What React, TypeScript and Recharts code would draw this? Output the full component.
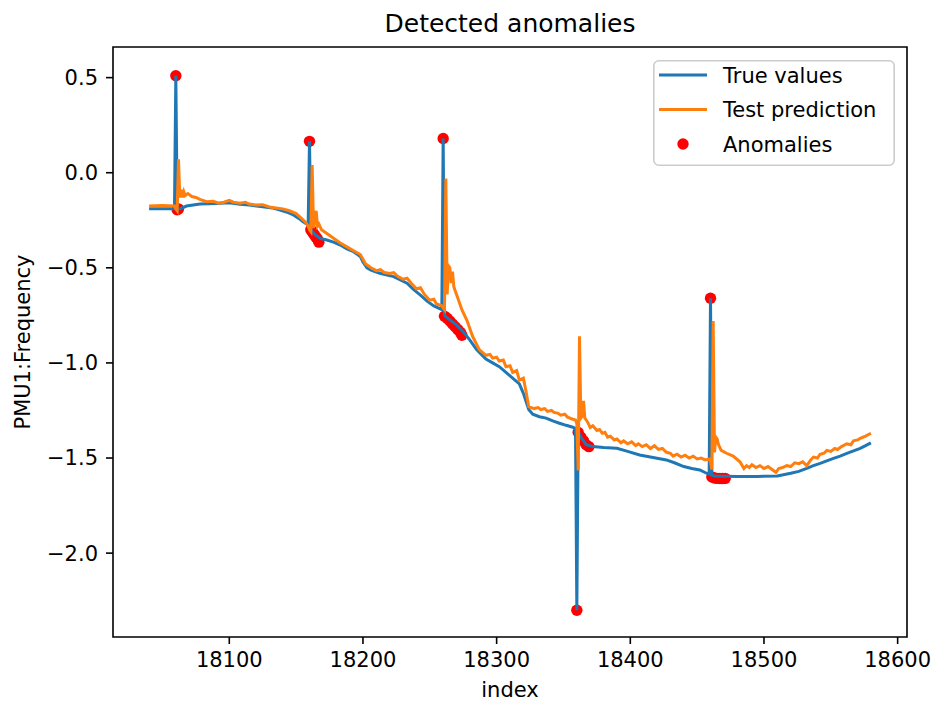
import React from "react";
import {
  ComposedChart,
  Line,
  Scatter,
  XAxis,
  YAxis,
  ReferenceArea,
  Legend,
} from "recharts";

// index / value pairs
const trueIndex = [
  18040, 18059, 18060, 18061, 18063, 18068, 18078, 18090, 18100, 18108, 18115, 18125, 18132, 18138, 18144, 18148,
  18152, 18155, 18159, 18160, 18161, 18164, 18168, 18173, 18178, 18183, 18188, 18193, 18198, 18200, 18203, 18206,
  18212, 18218, 18223, 18228, 18233, 18238, 18243, 18248, 18253, 18257, 18259, 18260, 18261, 18265, 18270, 18275,
  18280, 18285, 18292, 18297, 18302, 18307, 18312, 18317, 18320, 18324, 18327, 18332, 18337, 18342, 18347, 18352,
  18357, 18359, 18360, 18361, 18363, 18367, 18372, 18380, 18390, 18398, 18407, 18415, 18427, 18433, 18440, 18446,
  18452, 18457, 18459, 18460, 18461, 18463, 18480, 18495, 18510, 18520, 18526, 18532, 18537, 18542, 18547, 18552,
  18557, 18562, 18567, 18572, 18576, 18580,
];
const trueValues = [
  -0.19, -0.19, 0.51, -0.195, -0.19, -0.175, -0.164, -0.162, -0.158, -0.166, -0.17, -0.179, -0.185, -0.196, -0.21, -0.222,
  -0.24, -0.257, -0.275, 0.165, -0.3, -0.325, -0.345, -0.354, -0.365, -0.38, -0.4, -0.415, -0.44, -0.47, -0.5, -0.512,
  -0.527, -0.538, -0.546, -0.564, -0.581, -0.615, -0.643, -0.675, -0.7, -0.713, -0.72, 0.18, -0.75, -0.774, -0.8, -0.836,
  -0.88, -0.93, -0.98, -1.0, -1.02, -1.05, -1.08, -1.11, -1.16, -1.245, -1.27, -1.283, -1.29, -1.305, -1.317, -1.328,
  -1.338, -1.345, -2.3, -1.36, -1.39, -1.43, -1.44, -1.445, -1.449, -1.465, -1.484, -1.495, -1.51, -1.525, -1.545, -1.555,
  -1.563, -1.58, -1.585, -0.66, -1.59, -1.594, -1.597, -1.597, -1.594, -1.58, -1.57, -1.554, -1.54, -1.528, -1.515, -1.502,
  -1.49, -1.476, -1.462, -1.449, -1.435, -1.42,
];

const predIndex = [
  18040, 18050, 18059, 18060, 18061, 18062, 18063, 18064, 18065, 18066, 18067, 18069, 18072, 18075, 18078, 18083,
  18088, 18092, 18096, 18100, 18103, 18108, 18112, 18115, 18120, 18125, 18130, 18135, 18140, 18145, 18150, 18154,
  18157, 18159, 18160, 18161, 18162, 18163, 18164, 18165, 18166, 18167, 18169, 18173, 18178, 18183, 18188, 18193,
  18198, 18200, 18202, 18206, 18210, 18213, 18216, 18220, 18223, 18226, 18230, 18233, 18236, 18240, 18243, 18246,
  18250, 18253, 18255, 18259, 18260, 18261, 18262, 18263, 18264, 18265, 18266, 18267, 18268, 18269, 18271, 18274,
  18278, 18282, 18287, 18292, 18295, 18297, 18300, 18302, 18305, 18307, 18310, 18312, 18315, 18317, 18320, 18322,
  18324, 18328, 18331, 18333, 18336, 18338, 18341, 18343, 18346, 18348, 18351, 18353, 18357, 18359, 18360, 18361,
  18362, 18363, 18364, 18365, 18366, 18368, 18370, 18372, 18375, 18377, 18379, 18381, 18383, 18385, 18388, 18390,
  18393, 18395, 18398, 18401, 18404, 18406, 18409, 18412, 18415, 18418, 18421, 18424, 18427, 18430, 18432, 18435,
  18438, 18441, 18444, 18447, 18450, 18453, 18456, 18459, 18460, 18461, 18462, 18463, 18464, 18465, 18466, 18468,
  18472, 18477, 18482, 18485, 18487, 18489, 18491, 18494, 18497, 18500, 18503, 18506, 18509, 18511, 18514, 18517,
  18520, 18523, 18526, 18529, 18532, 18535, 18537, 18540, 18542, 18545, 18547, 18550, 18553, 18555, 18558, 18562,
  18565, 18567, 18570, 18572, 18576, 18580,
];
const predValues = [
  -0.175, -0.172, -0.175, -0.19, -0.2, 0.07, -0.13, -0.09, -0.13, -0.1, -0.12, -0.11, -0.125, -0.13, -0.14, -0.152,
  -0.15, -0.16, -0.155, -0.145, -0.155, -0.16, -0.155, -0.165, -0.17, -0.168, -0.18, -0.185, -0.19, -0.2, -0.215, -0.24,
  -0.26, -0.28, -0.3, -0.31, 0.04, -0.29, -0.26, -0.2, -0.28, -0.27, -0.3, -0.32, -0.345, -0.37, -0.39, -0.41,
  -0.43, -0.455, -0.48, -0.5, -0.515, -0.51, -0.525, -0.53, -0.525, -0.545, -0.56, -0.555, -0.58, -0.61, -0.605, -0.64,
  -0.67, -0.665, -0.69, -0.7, -0.71, -0.72, -0.03, -0.64, -0.49, -0.5, -0.58, -0.52, -0.6, -0.62, -0.66, -0.72,
  -0.78, -0.86, -0.93, -0.96, -0.955, -0.975, -0.97, -0.99, -0.985, -1.02, -1.015, -1.05, -1.04, -1.09, -1.08, -1.15,
  -1.23, -1.24, -1.235, -1.245, -1.24, -1.255, -1.25, -1.26, -1.265, -1.275, -1.27, -1.285, -1.296, -1.3, -1.32, -1.565,
  -0.86, -1.29, -1.28, -1.2, -1.29, -1.31, -1.34, -1.33, -1.355, -1.35, -1.37, -1.365, -1.39, -1.385, -1.405, -1.4,
  -1.42, -1.41, -1.425, -1.415, -1.435, -1.425, -1.44, -1.43, -1.45, -1.435, -1.455, -1.45, -1.47, -1.475, -1.49, -1.48,
  -1.495, -1.485, -1.5, -1.49, -1.505, -1.5, -1.51, -1.505, -1.52, -1.56, -0.78, -1.47, -1.39, -1.4, -1.43, -1.46,
  -1.475, -1.49, -1.52, -1.555, -1.54, -1.55, -1.535, -1.55, -1.54, -1.555, -1.545, -1.56, -1.575, -1.555, -1.55, -1.54,
  -1.545, -1.525, -1.53, -1.52, -1.54, -1.51, -1.495, -1.5, -1.48, -1.475, -1.46, -1.465, -1.45, -1.455, -1.44, -1.425,
  -1.43, -1.41, -1.405, -1.397, -1.385, -1.37,
];

const anomalyIndex = [
  18060, 18061, 18062,
  18160, 18161, 18162, 18163, 18164, 18165, 18166, 18167,
  18260, 18261, 18263, 18265, 18267, 18269, 18271, 18273, 18274,
  18360, 18361, 18363, 18365, 18367, 18369,
  18460, 18461, 18463, 18465, 18467, 18469, 18471,
];
const anomalyValues = [
  0.51, -0.195, -0.19,
  0.165, -0.3, -0.31, -0.32, -0.33, -0.34, -0.35, -0.365,
  0.18, -0.755, -0.765, -0.78, -0.795, -0.81, -0.825, -0.84, -0.855,
  -2.3, -1.365, -1.39, -1.41, -1.43, -1.44,
  -0.66, -1.6, -1.605, -1.607, -1.608, -1.608, -1.607,
];

const xTicks = [18100, 18200, 18300, 18400, 18500, 18600];
const yTicks = [0.5, 0, -0.5, -1, -1.5, -2];
const xDomain = [18013, 18607];
const yDomain = [-2.441, 0.661];

const legendItems = [
  { name: "True values", color: "#1f77b4", kind: "line" },
  { name: "Test prediction", color: "#ff7f0e", kind: "line" },
  { name: "Anomalies", color: "#ff0000", kind: "dot" },
];

const trueData = trueIndex.map((x, i) => ({ x, y: trueValues[i] }));
const predData = predIndex.map((x, i) => ({ x, y: predValues[i] }));
const anomalyData = anomalyIndex.map((x, i) => ({ x, y: anomalyValues[i] }));

const FONT = "DejaVu Sans";
const tickStyle = { fontSize: 21, fill: "#000", fontFamily: FONT };
const fmtY = (v: number) => (v < 0 ? "\u2212" : "") + Math.abs(v).toFixed(1);

function renderLegend() {
  return (
    <svg width={242} height={106} style={{ display: "block" }}>
      <rect x={0.8} y={0.8} width={240.4} height={104.4} rx={5} fill="#fff" fillOpacity={0.8} stroke="#cccccc" strokeWidth={1.6} />
      {legendItems.map((it, i) => {
        const cy = 15 + i * 34.5;
        return (
          <g key={it.name}>
            {it.kind === "line" ? (
              <line x1={6} x2={54} y1={cy} y2={cy} stroke={it.color} strokeWidth={3} />
            ) : (
              <circle cx={30} cy={cy} r={5.7} fill={it.color} />
            )}
            <text x={70} y={cy + 7.5} fontSize={21} fontFamily={FONT} fill="#000">
              {it.name}
            </text>
          </g>
        );
      })}
    </svg>
  );
}

const dotShape = (p: any) => <circle cx={p.cx} cy={p.cy} r={5.7} fill="#ff0000" />;

export default function App() {
  return (
    <div style={{ position: "absolute", left: 0, top: 0, width: 934, height: 709, background: "#fff" }}>
      <svg width={934} height={50} style={{ position: "absolute", left: 0, top: 0 }}>
        <text x={510} y={32} textAnchor="middle" fontSize={25} fontFamily={FONT} fill="#000">
          Detected anomalies
        </text>
      </svg>
      <ComposedChart width={934} height={709} margin={{ top: 47, right: 27, bottom: 12, left: 33 }}>
        <XAxis
          type="number"
          dataKey="x"
          domain={xDomain}
          ticks={xTicks}
          allowDataOverflow
          height={60}
          axisLine={false}
          tickLine={{ stroke: "#000", strokeWidth: 1.6 }}
          tickSize={7}
          tickMargin={8}
          tick={tickStyle}
          label={{
            content: () => (
              <text x={510} y={697} textAnchor="middle" fontSize={21} fontFamily={FONT} fill="#000">
                index
              </text>
            ),
          }}
        />
        <YAxis
          type="number"
          dataKey="y"
          domain={yDomain}
          ticks={yTicks}
          allowDataOverflow
          width={80}
          axisLine={false}
          tickLine={{ stroke: "#000", strokeWidth: 1.6 }}
          tickSize={7}
          tickMargin={8}
          tick={tickStyle}
          tickFormatter={fmtY}
          label={{
            content: () => (
              <text
                x={23}
                y={342}
                transform="rotate(-90 23 342)"
                textAnchor="middle"
                dominantBaseline="central"
                fontSize={21}
                fontFamily={FONT}
                fill="#000"
              >
                PMU1:Frequency
              </text>
            ),
          }}
        />
        <ReferenceArea
          x1={xDomain[0]}
          x2={xDomain[1]}
          y1={yDomain[0]}
          y2={yDomain[1]}
          fill="none"
          stroke="#000"
          strokeWidth={1.6}
        />
        <Scatter data={anomalyData} dataKey="y" shape={dotShape} isAnimationActive={false} zIndex={350} />
        <Line data={trueData} dataKey="y" type="linear" stroke="#1f77b4" strokeWidth={3} dot={false} isAnimationActive={false} />
        <Line data={predData} dataKey="y" type="linear" stroke="#ff7f0e" strokeWidth={3} dot={false} isAnimationActive={false} />
        <Legend
          layout="vertical"
          align="center"
          verticalAlign="middle"
          wrapperStyle={{ top: 60, left: 653, width: 242, height: 106 }}
          content={renderLegend}
        />
      </ComposedChart>
    </div>
  );
}
